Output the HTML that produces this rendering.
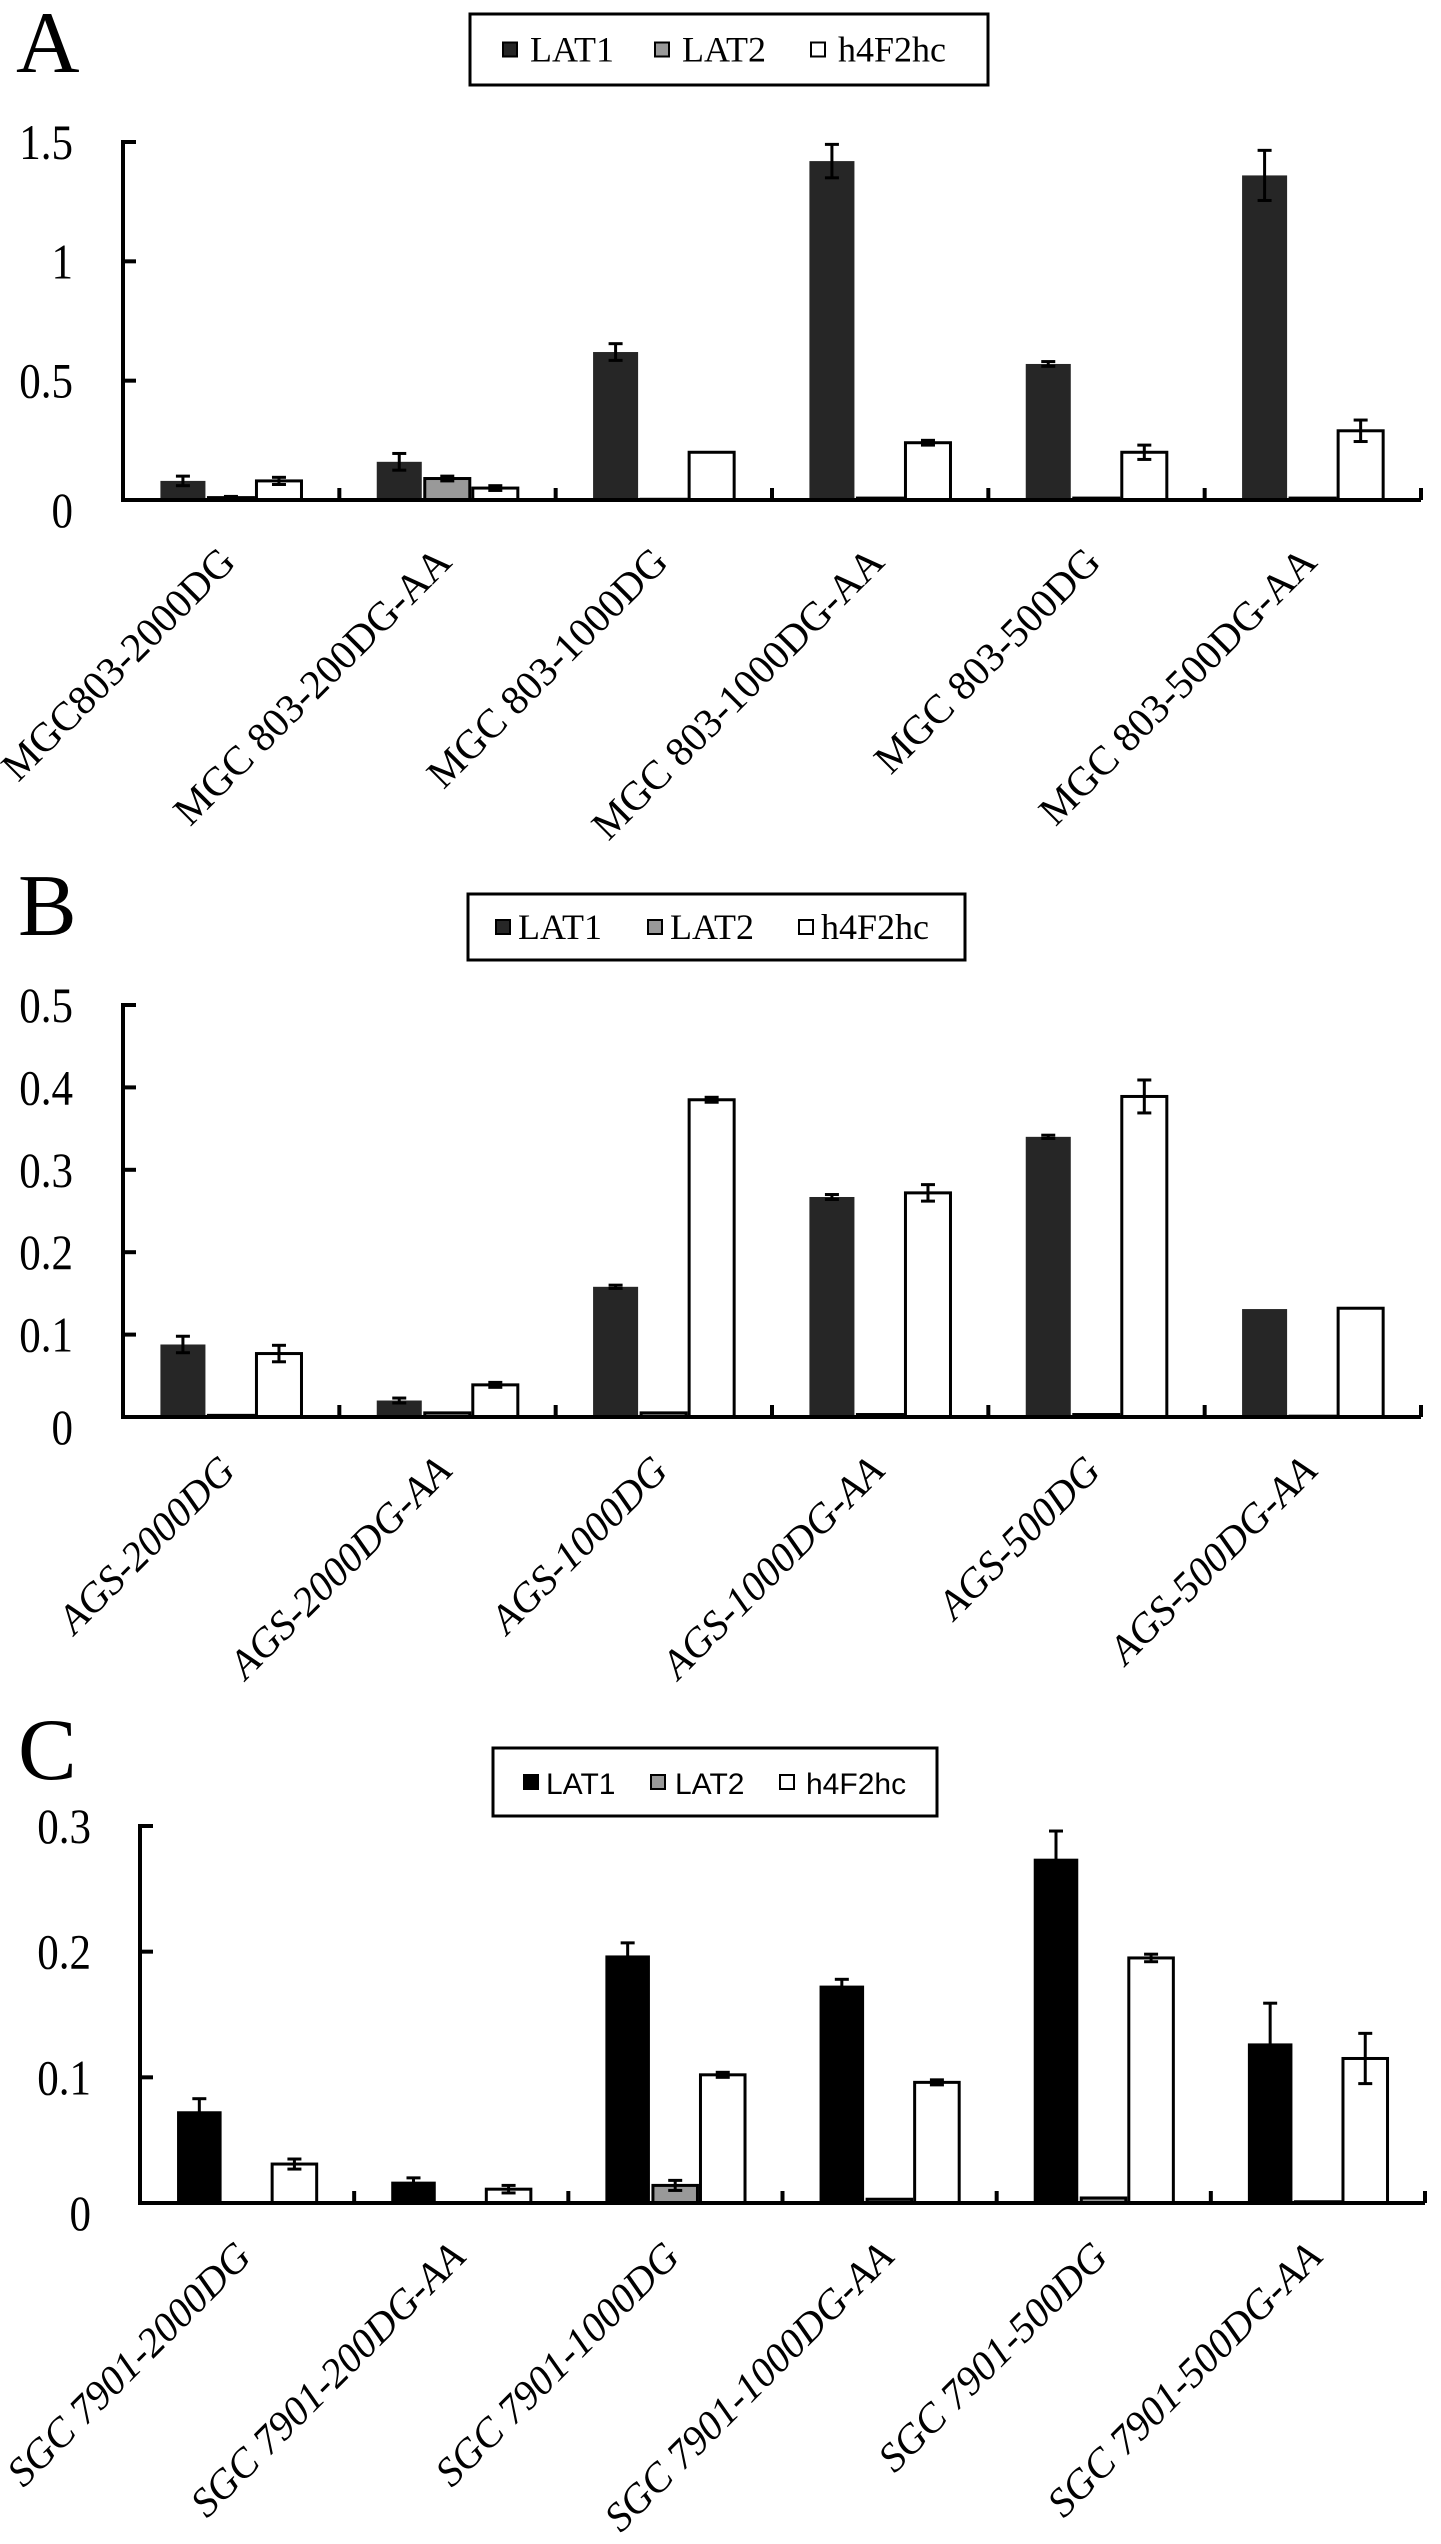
<!DOCTYPE html>
<html><head><meta charset="utf-8"><style>
html,body{margin:0;padding:0;background:#fff;}
svg{display:block;}
</style></head><body>
<svg id="fig" width="1441" height="2544" viewBox="0 0 1441 2544" xmlns="http://www.w3.org/2000/svg"></svg>
<script>
// ---------- Panel A data ----------
const catsA = ["MGC803-2000DG","MGC 803-200DG-AA","MGC 803-1000DG","MGC 803-1000DG-AA","MGC 803-500DG","MGC 803-500DG-AA"];
const lat1A = [0.08,0.16,0.62,1.42,0.57,1.36];
const lat2A = [0.01,0.09,0.003,0.008,0.008,0.008];
const h4A   = [0.08,0.05,0.20,0.24,0.20,0.29];
const lat1ErrA = [0.02,0.035,0.035,0.07,0.01,0.105];
const lat2ErrA = [0.005,0.01,0,0,0,0];
const h4ErrA   = [0.015,0.01,0,0.01,0.03,0.045];
const ticksA = [0,0.5,1,1.5];
const tickLabelsA = ["0","0.5","1","1.5"];
// ---------- Panel B data ----------
const catsB = ["AGS-2000DG","AGS-2000DG-AA","AGS-1000DG","AGS-1000DG-AA","AGS-500DG","AGS-500DG-AA"];
const lat1B = [0.088,0.02,0.158,0.267,0.34,0.131];
const lat2B = [0.002,0.005,0.005,0.003,0.003,0.001];
const h4B   = [0.077,0.039,0.385,0.272,0.389,0.132];
const lat1ErrB = [0.01,0.003,0.002,0.003,0.002,0];
const lat2ErrB = [0,0,0,0,0,0];
const h4ErrB   = [0.01,0.003,0.003,0.01,0.02,0];
const ticksB = [0,0.1,0.2,0.3,0.4,0.5];
const tickLabelsB = ["0","0.1","0.2","0.3","0.4","0.5"];
// ---------- Panel C data ----------
const catsC = ["SGC 7901-2000DG","SGC 7901-200DG-AA","SGC 7901-1000DG","SGC 7901-1000DG-AA","SGC 7901-500DG","SGC 7901-500DG-AA"];
const lat1C = [0.073,0.017,0.197,0.173,0.274,0.127];
const lat2C = [0,0,0.014,0.003,0.004,0.001];
const h4C   = [0.031,0.011,0.102,0.096,0.195,0.115];
const lat1ErrC = [0.01,0.003,0.01,0.005,0.022,0.032];
const lat2ErrC = [0,0,0.004,0,0,0];
const h4ErrC   = [0.004,0.003,0.002,0.002,0.003,0.02];
const ticksC = [0,0.1,0.2,0.3];
const tickLabelsC = ["0","0.1","0.2","0.3"];

const NS="http://www.w3.org/2000/svg";
const svg=document.getElementById('fig');
function mk(tag,attrs,parent){const e=document.createElementNS(NS,tag);for(const k in attrs)e.setAttribute(k,attrs[k]);(parent||svg).appendChild(e);return e;}

function panel(cfg){
  const g=mk('g',{});
  
  
  const {x0,x1,y0,yTop,vmax}=cfg;
  const yS=v=>y0-(v/vmax)*(y0-yTop);
  const cw=(x1-x0)/6;
  const xS=(i,s)=>x0+i*cw+cw*0.166+s*cw*0.222;
  const bw=cw*0.222;
  // panel letter
  const L=mk('text',{x:cfg.letterX,y:cfg.letterY,'font-family':'Liberation Serif, serif','font-size':88},g);
  L.textContent=cfg.id.toUpperCase();
  
  
  // legend
  const lg=mk('g',{},g);
  
  
  mk('rect',{x:cfg.leg[0],y:cfg.leg[1],width:cfg.leg[2]-cfg.leg[0],height:cfg.leg[3]-cfg.leg[1],fill:'#fff',stroke:'#000','stroke-width':3},lg);
  const names=['LAT1','LAT2','h4F2hc'];
  const fills=[cfg.c1,'#999','#fff'];
  const my=(cfg.leg[1]+cfg.leg[3])/2;
  names.forEach((n,k)=>{
    const e=mk('g',{},lg);
    
    
    mk('rect',{x:cfg.legSw[k],y:my-7,width:14,height:14,fill:fills[k],stroke:'#000','stroke-width':2},e);
    const t=mk('text',{x:cfg.legTx[k],y:my+12,'font-family':cfg.legFont,'font-size':cfg.legSize},e);
    t.textContent=n;
  });
  // bars
  const series=[[cfg.s1,cfg.e1,cfg.c1,'lat1'],[cfg.s2,cfg.e2,'#999','lat2'],[cfg.s3,cfg.e3,'#fff','h4f2hc']];
  series.forEach((s,k)=>{
    s[0].forEach((v,i)=>{
      const bx=xS(i,k), by=yS(v);
      const r=mk('rect',{x:bx+1.5,y:by,width:bw-3,height:Math.max(0,y0-by),fill:s[2],stroke:k===0?'none':'#000','stroke-width':k===0?0:3},g);
      
      
      const er=s[1][i];
      if(er>0){
        const cx=bx+bw/2, yh=yS(v+er), yl=yS(Math.max(0,v-er));
        const eg=mk('g',{stroke:'#000','stroke-width':3},g);
        
        
        mk('line',{x1:cx,y1:yh,x2:cx,y2:yl},eg);
        mk('line',{x1:cx-7,y1:yh,x2:cx+7,y2:yh},eg);
        mk('line',{x1:cx-7,y1:yl,x2:cx+7,y2:yl},eg);
      }
    });
  });
  // axes
  const ax=mk('g',{stroke:'#000','stroke-width':4,fill:'none'},g);
  
  
  mk('line',{x1:x0,y1:yTop-2,x2:x0,y2:y0+2},ax);
  mk('line',{x1:x0-2,y1:y0,x2:x1,y2:y0},ax);
  cfg.ticks.forEach((t,j)=>{
    const y=yS(t);
    mk('line',{x1:x0,y1:y,x2:x0+13,y2:y},ax);
    const tl=mk('text',{x:cfg.tickX,y:y+17+(t===0?10:0),'text-anchor':'end','font-family':'Liberation Serif, serif','font-size':50,transform:`translate(${cfg.tickX} 0) scale(0.86 1) translate(${-cfg.tickX} 0)`},g);
    tl.textContent=cfg.tickLabels[j];
    
    
  });
  for(let i=1;i<=6;i++){const x=x0+i*cw;mk('line',{x1:x,y1:y0,x2:x,y2:y0-12},ax);}
  cfg.cats.forEach((c,i)=>{
    const cx=x0+(i+0.5)*cw+6, cy=y0+cfg.labOff;
    const t=mk('text',{x:cx,y:cy,'text-anchor':'end','font-family':'Liberation Serif, serif','font-size':41,'font-style':cfg.italic?'italic':'normal',transform:`rotate(-45 ${cx} ${cy})`},g);
    t.textContent=c;
    
    
  });
}

panel({id:'a',x0:123,x1:1421,y0:500,yTop:142,vmax:1.5,cats:catsA,s1:lat1A,s2:lat2A,s3:h4A,e1:lat1ErrA,e2:lat2ErrA,e3:h4ErrA,
  ticks:ticksA,tickLabels:tickLabelsA,tickX:73,c1:'#262626',letterX:16,letterY:72,
  leg:[470,14,988,85],legSw:[503,655,811],legTx:[530,682,838],legFont:'Liberation Serif, serif',legSize:36,labOff:64,italic:false});
panel({id:'b',x0:123,x1:1421,y0:1417,yTop:1005,vmax:0.5,cats:catsB,s1:lat1B,s2:lat2B,s3:h4B,e1:lat1ErrB,e2:lat2ErrB,e3:h4ErrB,
  ticks:ticksB,tickLabels:tickLabelsB,tickX:73,c1:'#262626',letterX:18,letterY:935,
  leg:[468,894,965,960],legSw:[496,648,799],legTx:[518,670,821],legFont:'Liberation Serif, serif',legSize:36,labOff:56,italic:true});
panel({id:'c',x0:140,x1:1425,y0:2203,yTop:1826,vmax:0.3,cats:catsC,s1:lat1C,s2:lat2C,s3:h4C,e1:lat1ErrC,e2:lat2ErrC,e3:h4ErrC,
  ticks:ticksC,tickLabels:tickLabelsC,tickX:91,c1:'#000',letterX:18,letterY:1779,
  leg:[493,1748,937,1816],legSw:[524,651,780],legTx:[546,675,806],legFont:'Liberation Sans, sans-serif',legSize:30,labOff:56,italic:true});
</script>
</body></html>
